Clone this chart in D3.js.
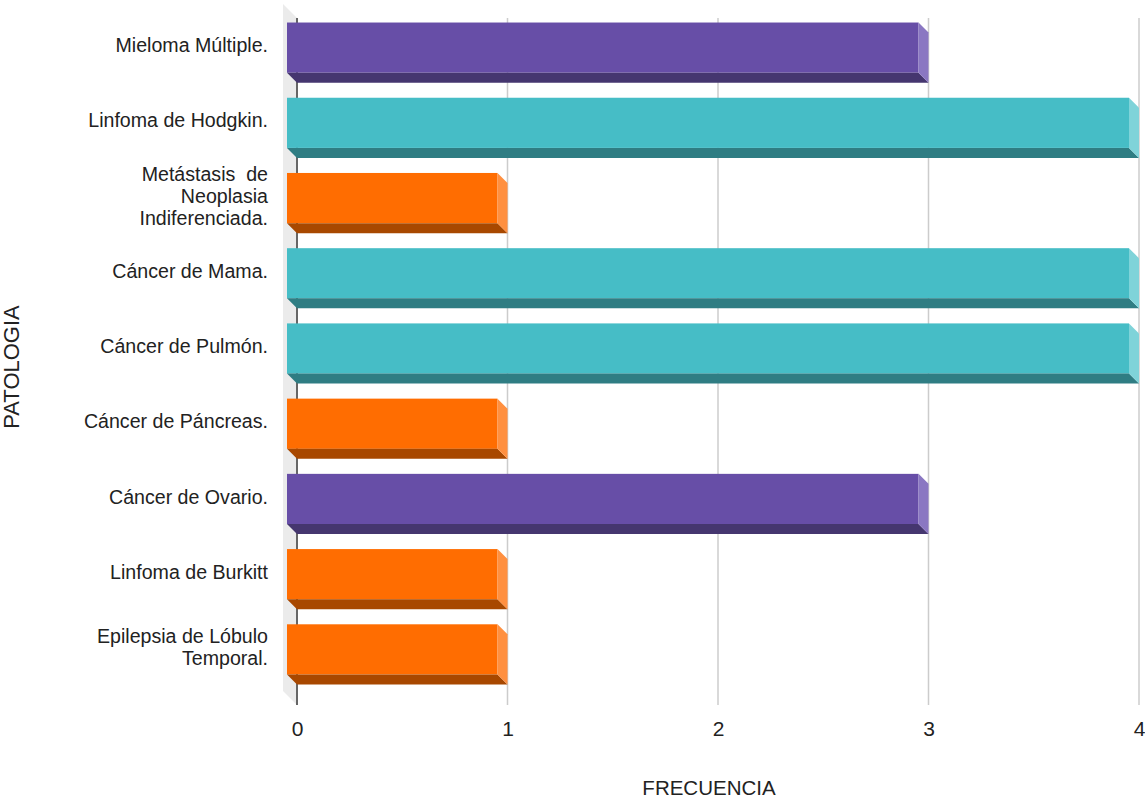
<!DOCTYPE html>
<meta charset="utf-8">
<script src="https://d3js.org/d3.v7.min.js"></script>
<style>
  body { margin: 0; background: #fff; }
  text { font-family: "Liberation Sans", Arial, sans-serif; fill: #222; }
</style>
<div id="chart"></div>
<script>

// data
var categories = [
  "Mieloma Múltiple.",
  "Linfoma de Hodgkin.",
  "Metástasis  de\nNeoplasia\nIndiferenciada.",
  "Cáncer de Mama.",
  "Cáncer de Pulmón.",
  "Cáncer de Páncreas.",
  "Cáncer de Ovario.",
  "Linfoma de Burkitt",
  "Epilepsia de Lóbulo\nTemporal."
];
var values = [3, 4, 1, 4, 4, 1, 3, 1, 1];
var xTicks = [0, 1, 2, 3, 4];
var xTitle = "FRECUENCIA";
var yTitle = "PATOLOGIA";

// front / bottom / side shades per value group
var shades = {
  1: ["#ff6d01", "#a84800", "#ff9040"],
  3: ["#674ea7", "#45366f", "#8a77c2"],
  4: ["#46bdc6", "#2f7d83", "#7fd3d9"]
};

var width = 1145, height = 800;
var depth = 10;
var fontSize = 19.6;

var svg = d3.select("#chart").append("svg")
    .attr("width", width)
    .attr("height", height);

var x = d3.scaleLinear()
    .domain([0, 4])
    .range([297, 1139]);

var y = d3.scaleBand()
    .domain(categories)
    .range([15, 692])
    .paddingInner(0.2)
    .paddingOuter(0.1);

var plotTop = 18, plotBottom = 705;

// left wall
svg.append("polygon")
    .attr("points", [[x(0) - 14, plotTop - 14], [x(0), plotTop], [x(0), plotBottom], [x(0) - 14, plotBottom - 14]].join(" "))
    .style("fill", "#ebebeb");

// gridlines
svg.selectAll(".grid")
    .data(xTicks.slice(1))
    .enter().append("line")
    .attr("x1", function(d) { return x(d); })
    .attr("x2", function(d) { return x(d); })
    .attr("y1", plotTop)
    .attr("y2", plotBottom)
    .style("stroke", "#cccccc")
    .style("stroke-width", 1.5);

// zero axis line
svg.append("line")
    .attr("x1", x(0)).attr("x2", x(0))
    .attr("y1", plotTop).attr("y2", plotBottom)
    .style("stroke", "#666")
    .style("stroke-width", 2);

// bars
var bars = svg.selectAll(".bar")
    .data(categories)
    .enter().append("g");

bars.each(function(c, i) {
  var g = d3.select(this);
  var v = values[i];
  var col = shades[v];
  var x0 = x(0) - depth, x1 = x(v) - depth;
  var yt = y(c), yb = y(c) + y.bandwidth() - depth;
  g.append("rect")
      .attr("x", x0).attr("y", yt)
      .attr("width", x1 - x0).attr("height", yb - yt)
      .style("fill", col[0]);
  g.append("polygon")
      .attr("points", [[x0, yb], [x1, yb], [x1 + depth, yb + depth], [x0 + depth, yb + depth]].join(" "))
      .style("fill", col[1]);
  g.append("polygon")
      .attr("points", [[x1, yt], [x1 + depth, yt + depth], [x1 + depth, yb + depth], [x1, yb]].join(" "))
      .style("fill", col[2]);
});

// category labels
var lineH = 22;
svg.selectAll(".cat")
    .data(categories)
    .enter().append("text")
    .attr("text-anchor", "end")
    .style("font-size", fontSize + "px")
    .style("white-space", "pre")
    .each(function(c) {
      var lines = c.split("\n");
      var mid = y(c) + (y.bandwidth() - depth) / 2 - 2.5;
      var first = mid - (lines.length - 1) * lineH / 2 + fontSize * 0.36;
      var t = d3.select(this);
      lines.forEach(function(l, k) {
        t.append("tspan")
          .attr("x", 268)
          .attr("y", first + k * lineH)
          .text(l);
      });
    });

// x axis tick labels
var xAxis = svg.append("g")
    .attr("transform", "translate(0," + plotBottom + ")")
    .call(d3.axisBottom(x).tickValues(xTicks).tickFormat(d3.format("d")).tickSize(0).tickPadding(16));
xAxis.select(".domain").remove();
xAxis.selectAll("text")
    .style("font-family", "'Liberation Sans', Arial, sans-serif")
    .style("font-size", "21px")
    .style("fill", "#222");

// axis titles
svg.append("text")
    .attr("x", 709)
    .attr("y", 795)
    .attr("text-anchor", "middle")
    .style("font-size", "20.5px")
    .text(xTitle);

svg.append("text")
    .attr("transform", "translate(19,367) rotate(-90)")
    .attr("text-anchor", "middle")
    .style("font-size", "22px")
    .text(yTitle);

</script>
